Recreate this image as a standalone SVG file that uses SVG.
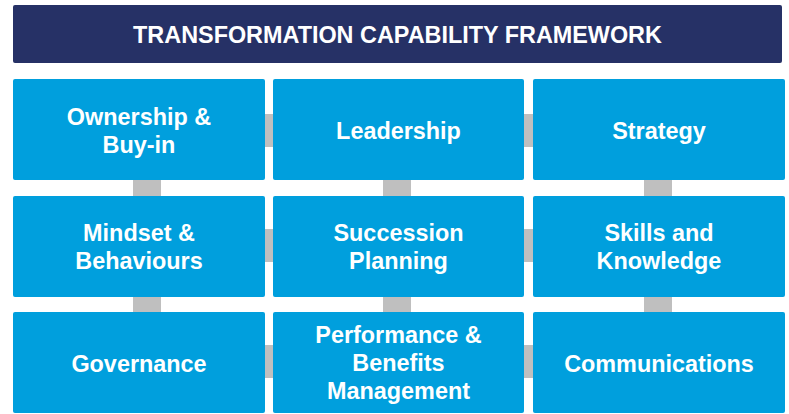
<svg xmlns="http://www.w3.org/2000/svg" width="789" height="414" viewBox="0 0 789 414">
  <style>
    .hdr { fill: #263166; }
    .box { fill: #009FDD; }
    .link { fill: #BFBFBF; }
    .t { font-family: "Liberation Sans", Arial, sans-serif; font-weight: bold; font-size: 23.4px; fill: #FFFFFF; text-anchor: middle; }
  </style>
  <rect width="789" height="414" fill="#FFFFFF"/>

  <!-- title bar -->
  <g id="title">
    <rect class="hdr" x="13" y="5" width="769" height="58" rx="2"/>
    <text class="t" x="397.5" y="43">TRANSFORMATION CAPABILITY FRAMEWORK</text>
  </g>

  <!-- grey joints between tiles -->
  <g id="connectors">
    <rect class="link" x="263" y="114" width="12" height="33"/>
    <rect class="link" x="522" y="114" width="13" height="33"/>
    <rect class="link" x="263" y="229" width="12" height="33"/>
    <rect class="link" x="522" y="229" width="13" height="33"/>
    <rect class="link" x="263" y="345" width="12" height="33"/>
    <rect class="link" x="522" y="345" width="13" height="33"/>
    <rect class="link" x="133" y="178" width="28" height="20"/>
    <rect class="link" x="383" y="178" width="28" height="20"/>
    <rect class="link" x="644" y="178" width="28" height="20"/>
    <rect class="link" x="133" y="295" width="28" height="19"/>
    <rect class="link" x="383" y="295" width="28" height="19"/>
    <rect class="link" x="644" y="295" width="28" height="19"/>
  </g>

  <g id="ownership">
    <rect class="box" x="13" y="79" width="252" height="101" rx="2"/>
    <text class="t" x="139" y="125">Ownership &amp;</text>
    <text class="t" x="139" y="153">Buy-in</text>
  </g>
  <g id="leadership">
    <rect class="box" x="273" y="79" width="251" height="101" rx="2"/>
    <text class="t" x="398.5" y="139">Leadership</text>
  </g>
  <g id="strategy">
    <rect class="box" x="533" y="79" width="252" height="101" rx="2"/>
    <text class="t" x="659" y="139">Strategy</text>
  </g>

  <g id="mindset">
    <rect class="box" x="13" y="196" width="252" height="101" rx="2"/>
    <text class="t" x="139" y="241">Mindset &amp;</text>
    <text class="t" x="139" y="269">Behaviours</text>
  </g>
  <g id="succession">
    <rect class="box" x="273" y="196" width="251" height="101" rx="2"/>
    <text class="t" x="398.5" y="241">Succession</text>
    <text class="t" x="398.5" y="269">Planning</text>
  </g>
  <g id="skills">
    <rect class="box" x="533" y="196" width="252" height="101" rx="2"/>
    <text class="t" x="659" y="241">Skills and</text>
    <text class="t" x="659" y="269">Knowledge</text>
  </g>

  <g id="governance">
    <rect class="box" x="13" y="312" width="252" height="101" rx="2"/>
    <text class="t" x="139" y="372">Governance</text>
  </g>
  <g id="performance">
    <rect class="box" x="273" y="312" width="251" height="101" rx="2"/>
    <text class="t" x="398.5" y="343">Performance &amp;</text>
    <text class="t" x="398.5" y="371">Benefits</text>
    <text class="t" x="398.5" y="399">Management</text>
  </g>
  <g id="communications">
    <rect class="box" x="533" y="312" width="252" height="101" rx="2"/>
    <text class="t" x="659" y="372">Communications</text>
  </g>
</svg>
